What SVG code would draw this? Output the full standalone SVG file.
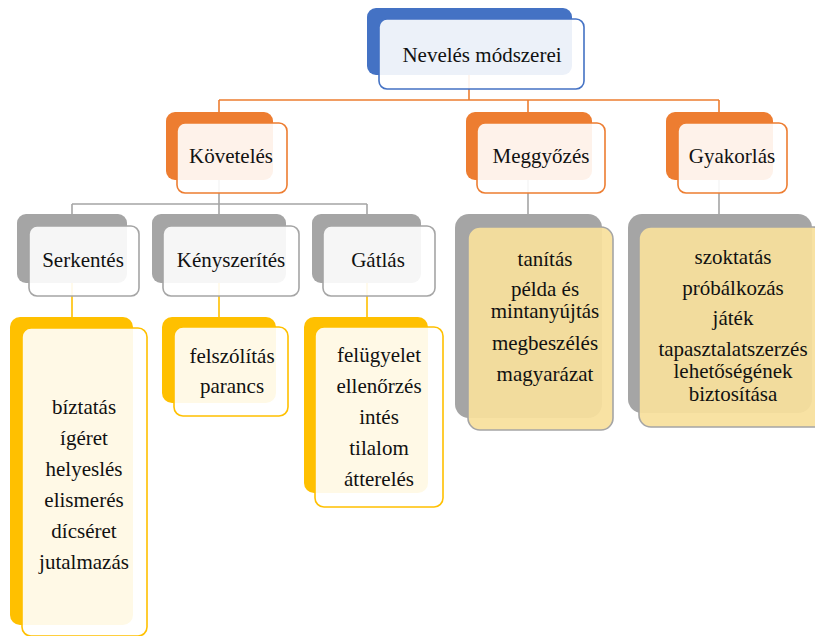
<svg xmlns="http://www.w3.org/2000/svg" width="815" height="636" viewBox="0 0 815 636" font-family="Liberation Serif, Times New Roman, serif">
<style>
text{font-size:21px;fill:#111;text-anchor:middle}
.front{fill:#fff;fill-opacity:0.9;stroke-width:1.6}
.bb{fill:#4472C4}.fb{stroke:#4472C4}
.bo{fill:#ED7D31}.fo{stroke:#ED7D31}
.bg{fill:#A5A5A5}.fg{stroke:#A5A5A5}
.by{fill:#FFC000}.fy{stroke:#FFC000}
.ft{fill:#F8E09C;fill-opacity:0.93;stroke:#A5A5A5;stroke-width:1.6}
.co{stroke:#ED7D31;stroke-width:1.6;fill:none}
.cg{stroke:#A5A5A5;stroke-width:1.6;fill:none}
.cy{stroke:#FFC000;stroke-width:1.6;fill:none}
</style>
<rect width="815" height="636" fill="#fff"/>
<g id="connectors">
<path class="co" d="M469 75V100M219 100H719M219 100V112M528 100V112M719 100V112"/>
<path class="cg" d="M219 180V204M72 204H367M72 204V214M219 204V214M367 204V214M528 180V214M719 180V214"/>
<path class="cy" d="M72 283V317M219 283V317M367 283V317"/>
</g>
<g id="n-root">
<rect class="bb" x="367" y="8" width="205" height="67" rx="9"/>
<rect class="front fb" x="379" y="19" width="205" height="70" rx="8"/>
<text x="482" y="62" font-family="Liberation Serif, serif">Nevelés módszerei</text>
</g>
<g id="n-kovetels">
<rect class="bo" x="166" y="112" width="107" height="68" rx="9"/>
<rect class="front fo" x="177" y="123" width="110" height="70" rx="8"/>
<text x="231" y="163">Követelés</text>
</g>
<g id="n-meggyozes">
<rect class="bo" x="466" y="112" width="126" height="68" rx="9"/>
<rect class="front fo" x="477" y="123" width="128" height="70" rx="8"/>
<text x="541" y="163">Meggyőzés</text>
</g>
<g id="n-gyakorlas">
<rect class="bo" x="666" y="112" width="107" height="68" rx="9"/>
<rect class="front fo" x="678" y="123" width="109" height="70" rx="8"/>
<text x="732" y="163">Gyakorlás</text>
</g>
<g id="n-serkentes">
<rect class="bg" x="17" y="214" width="110" height="69" rx="9"/>
<rect class="front fg" x="29" y="226" width="110" height="70" rx="8"/>
<text x="83" y="267">Serkentés</text>
</g>
<g id="n-kenyszerites">
<rect class="bg" x="152" y="214" width="134" height="69" rx="9"/>
<rect class="front fg" x="163" y="226" width="136" height="70" rx="8"/>
<text x="231" y="267">Kényszerítés</text>
</g>
<g id="n-gatlas">
<rect class="bg" x="312" y="214" width="109" height="69" rx="9"/>
<rect class="front fg" x="323" y="226" width="112" height="70" rx="8"/>
<text x="378" y="267">Gátlás</text>
</g>
<g id="n-serkentes-list">
<rect class="by" x="10" y="317" width="123" height="308" rx="10"/>
<rect class="front fy" x="22" y="328" width="125" height="308" rx="9"/>
<text x="84" y="414">bíztatás</text>
<text x="84" y="445">ígéret</text>
<text x="84" y="476">helyeslés</text>
<text x="84" y="507">elismerés</text>
<text x="84" y="538">dícséret</text>
<text x="84" y="569">jutalmazás</text>
</g>
<g id="n-kenyszerites-list">
<rect class="by" x="162" y="317" width="114" height="86" rx="10"/>
<rect class="front fy" x="174" y="327" width="114" height="89" rx="9"/>
<text x="232" y="363">felszólítás</text>
<text x="232" y="393">parancs</text>
</g>
<g id="n-gatlas-list">
<rect class="by" x="304" y="317" width="124" height="176" rx="10"/>
<rect class="front fy" x="315" y="327" width="128" height="180" rx="9"/>
<text x="379" y="362">felügyelet</text>
<text x="379" y="393">ellenőrzés</text>
<text x="379" y="424">intés</text>
<text x="379" y="455">tilalom</text>
<text x="379" y="486">átterelés</text>
</g>
<g id="n-meggyozes-list">
<rect class="bg" x="455" y="214" width="147" height="204" rx="14"/>
<rect class="ft" x="468" y="227" width="145" height="203" rx="12"/>
<text x="545" y="266">tanítás</text>
<text x="545" y="296">példa és</text>
<text x="545" y="318">mintanyújtás</text>
<text x="545" y="350">megbeszélés</text>
<text x="545" y="381">magyarázat</text>
</g>
<g id="n-gyakorlas-list">
<rect class="bg" x="628" y="214" width="184" height="199" rx="14"/>
<rect class="ft" x="639" y="227" width="186" height="200" rx="12"/>
<text x="733" y="264">szoktatás</text>
<text x="733" y="295">próbálkozás</text>
<text x="733" y="325">játék</text>
<text x="733" y="356">tapasztalatszerzés</text>
<text x="733" y="378">lehetőségének</text>
<text x="733" y="401">biztosítása</text>
</g>
</svg>
